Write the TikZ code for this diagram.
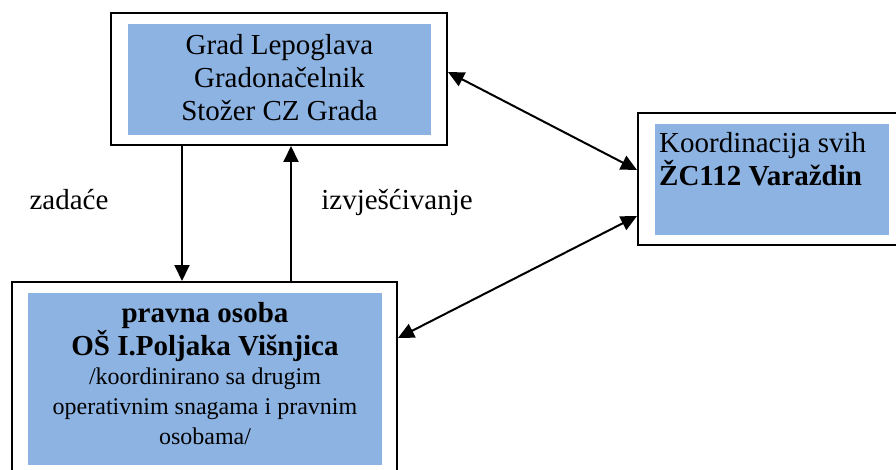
\documentclass[tikz,border=0pt]{standalone}
\usepackage{fontspec}
\setmainfont{Liberation Serif}
\usetikzlibrary{arrows.meta,positioning}
\definecolor{panelblue}{RGB}{141,179,226}
\newcommand{\smalltxt}{\fontsize{24}{30}\selectfont}
\tikzset{
  frame/.style={draw,line width=2pt,fill=white,inner sep=0pt},
  panel/.style={fill=panelblue,inner sep=0pt,align=center,font=\fontsize{29}{33}\selectfont},
  link/.style={line width=2pt,-{Triangle[length=16pt,width=15pt]}},
  twoway/.style={line width=2pt,{Triangle[length=16pt,width=15pt]}-{Triangle[length=16pt,width=15pt]}},
  lbl/.style={font=\fontsize{29}{33}\selectfont,inner sep=0pt,anchor=base}
}
\begin{document}
\begin{tikzpicture}[x=1pt,y=-1pt]
  \useasboundingbox (0,0) rectangle (896,470);
  \node[frame,minimum width=336pt,minimum height=132pt] (tf) at (279,79) {};
  \node[frame,minimum width=266pt,minimum height=132pt] (rf) at (771,179) {};
  \node[frame,minimum width=385pt,minimum height=198pt] (bf) at (204.5,381) {};
  \node[panel,minimum width=303pt,minimum height=111pt] (tp) at (279.5,79.5) {};
  \node[panel] (tt) at (279.5,77.5) {Grad Lepoglava\\Gradonačelnik\\Stožer CZ Grada};
  \node[panel,minimum width=234pt,minimum height=111pt] (rp) at (772,179.5) {};
  \node[panel,align=left,anchor=north west] (rt) at (659,132)
    {Koordinacija svih\\\textbf{ŽC112 Varaždin}};
  \node[panel,minimum width=354pt,minimum height=172pt] (bp) at (205,379) {};
  \node[panel,anchor=north] (bt) at (205,302)
    {\textbf{pravna osoba}\\\textbf{OŠ I.Poljaka Višnjica}\\[-4pt]
     \smalltxt /koordinirano sa drugim\\[-3pt]
     \smalltxt operativnim snagama i pravnim\\[-3pt]\smalltxt osobama/};
  \coordinate (dn) at (182,0);
  \coordinate (up) at (291,0);
  \draw[link] (tf.south -| dn) -- (bf.north -| dn);
  \draw[link] (bf.north -| up) -- (tf.south -| up);
  \draw[twoway] ([yshift=7pt]tf.east) -- ([yshift=9pt]rf.west);
  \draw[twoway] ([yshift=-37pt]rf.west) -- ([yshift=43pt]bf.east);
  \node[lbl] (zad) at (69,210) {zadaće};
  \node[lbl] (izv) at (397,210) {izvješćivanje};
\end{tikzpicture}
\end{document}
